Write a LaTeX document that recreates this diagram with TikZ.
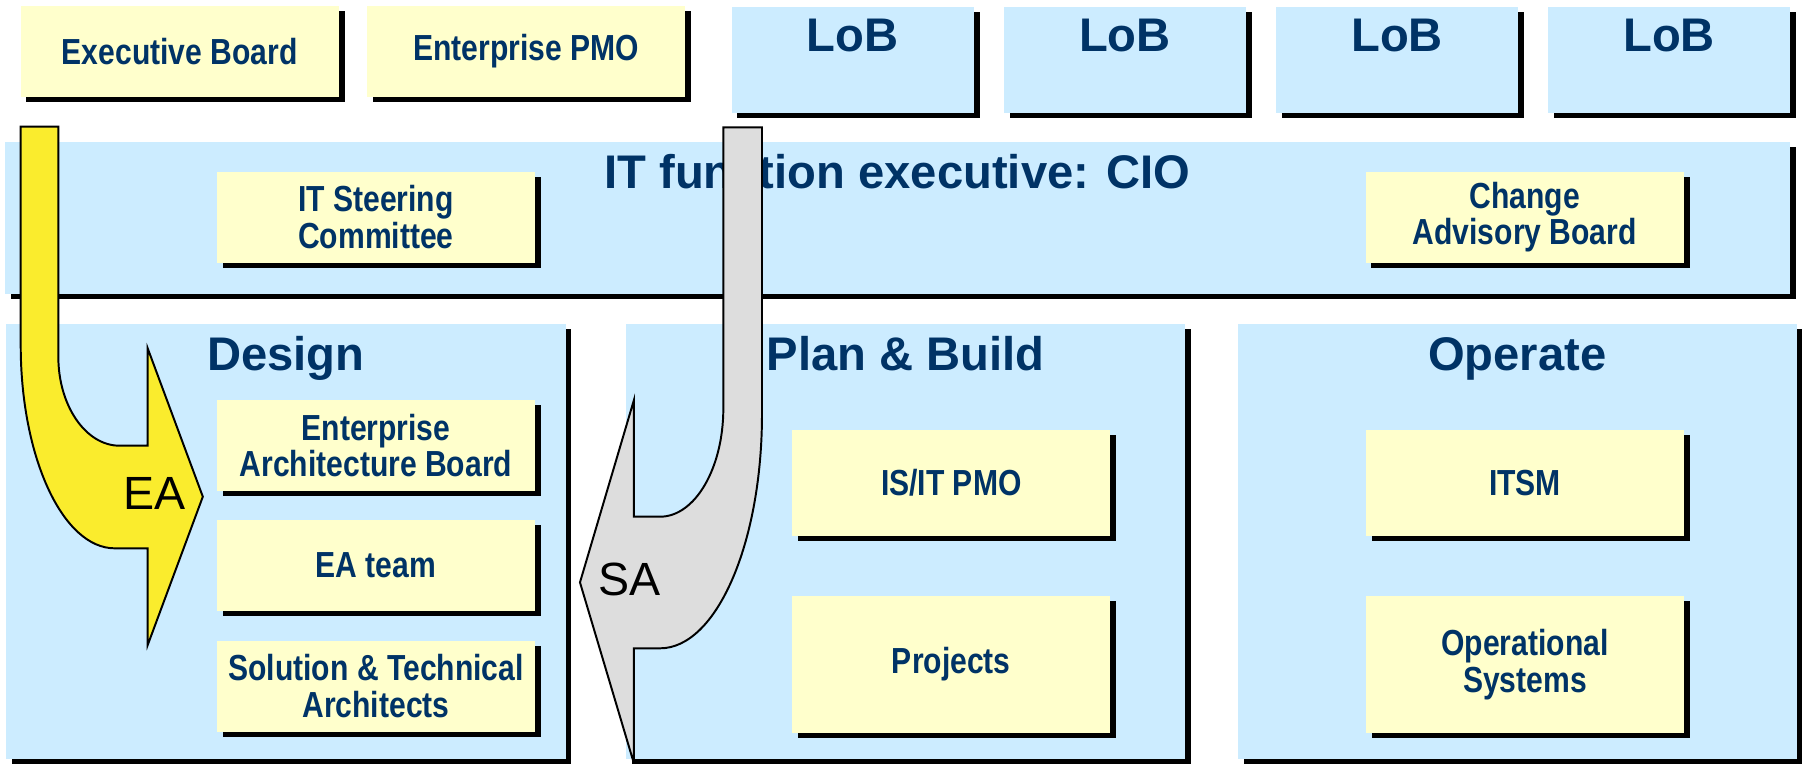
\documentclass[tikz,border=0pt]{standalone}
\usepackage{fontspec}
\setmainfont{Liberation Sans}
\newfontfamily\boxfont[FakeStretch=0.83]{Liberation Sans}
\usetikzlibrary{shadows}
\definecolor{panelblue}{RGB}{204,236,255}
\definecolor{boxyellow}{RGB}{255,255,204}
\definecolor{navy}{RGB}{0,51,102}
\definecolor{eayellow}{RGB}{250,236,45}
\definecolor{sagray}{RGB}{221,221,221}
\begin{document}
\begin{tikzpicture}[x=1pt,y=-1pt,
  shad/.style={drop shadow={shadow xshift=5pt,shadow yshift=-4.5pt,fill=black,opacity=1}},
  panel/.style={fill=panelblue,shad,inner sep=0pt,outer sep=0pt,anchor=north west},
  ybox/.style={fill=boxyellow,shad,inner sep=0pt,outer sep=0pt,minimum width=276.5pt,text=navy,align=center,font=\boxfont\bfseries\fontsize{31.5}{32}\selectfont},
  ttl/.style={anchor=base,text=navy,font=\bfseries\fontsize{41}{44}\selectfont,inner sep=0pt},
  arrowlbl/.style={anchor=base,text=black,font=\fontsize{40.5}{44}\selectfont,inner sep=0pt},
  bigarrow/.style={draw=black,line width=1.7pt,line join=miter}
]
\useasboundingbox (0,0) rectangle (1568,664);
\fill[white] (0,0) rectangle (1568,664);

% top row
\node[ybox,minimum height=78.8pt] (exec) at (156.25,44.6) {Executive Board};
\node[ybox,minimum height=78.8pt] (epmo) at (457.5,44.6) {Enterprise PMO};
\node[panel,minimum width=210.5pt,minimum height=92.2pt] (lob1) at (636,5.8) {};
\node[panel,minimum width=210.5pt,minimum height=92.2pt] (lob2) at (872.5,5.8) {};
\node[panel,minimum width=210.5pt,minimum height=92.2pt] (lob3) at (1109,5.8) {};
\node[panel,minimum width=210.5pt,minimum height=92.2pt] (lob4) at (1345.5,5.8) {};
\node[ttl] (lob1t) at (741.25,45) {LoB};
\node[ttl] (lob2t) at (977.75,45) {LoB};
\node[ttl] (lob3t) at (1214.25,45) {LoB};
\node[ttl] (lob4t) at (1450.75,45) {LoB};

% IT bar
\node[panel,minimum width=1551.5pt,minimum height=132.3pt] (itbar) at (4.5,123.2) {};
\node[ttl] (itbart) at (780,163.5) {IT function executive: CIO};
\node[ybox,minimum height=79.1pt] (itsc) at (326.8,188.75) {IT Steering\\Committee};
\node[ybox,minimum height=79.1pt] (cab) at (1325.25,188.75) {Change\\Advisory Board};

% panels
\node[panel,minimum width=486.6pt,minimum height=378.4pt] (design) at (5,281.6) {};
\node[panel,minimum width=486pt,minimum height=378.4pt] (plan) at (544,281.6) {};
\node[panel,minimum width=485.6pt,minimum height=378.4pt] (operate) at (1076,281.6) {};
\node[ttl] (designt) at (248.3,321.6) {Design};
\node[ttl] (plant) at (787,321.6) {Plan \& Build};
\node[ttl] (operatet) at (1318.8,321.6) {Operate};

% design boxes
\node[ybox,minimum height=79.1pt] (eab) at (326.8,387.25) {Enterprise\\Architecture Board};
\node[ybox,minimum height=79.1pt] (eat) at (326.8,491.5) {EA team};
\node[ybox,minimum height=79.1pt] (sta) at (326.8,596.45) {Solution \& Technical\\Architects};

% plan & build boxes
\node[ybox,minimum height=91.8pt] (pmo) at (826.85,419.7) {IS/IT PMO};
\node[ybox,minimum height=118.8pt] (proj) at (826.85,577.4) {Projects};

% operate boxes
\node[ybox,minimum height=91.8pt] (itsm) at (1325.5,419.7) {ITSM};
\node[ybox,minimum height=118.8pt] (ops) at (1325.5,577.4) {Operational\\Systems};

% EA arrow
\draw[bigarrow,fill=eayellow] (18,110) -- (50.7,110) -- (50.7,310)
  .. controls (50.7,352.7) and (74.6,387.4) .. (104,387.4)
  -- (128.4,387.4) -- (128.4,302.8) -- (176.3,431.7) -- (128.4,560.6)
  -- (128.4,476.6) -- (99.8,476.6)
  .. controls (54.6,476.6) and (18,397.5) .. (18,300) -- cycle;
\node[arrowlbl] (ealbl) at (134.7,442.7) {EA};

% SA arrow
\draw[bigarrow,fill=sagray] (628.7,110.7) -- (662.3,110.7) -- (662.3,360)
  .. controls (662.3,472.3) and (622.6,563.5) .. (573.7,563.5)
  -- (551,563.5) -- (551,663.5) -- (504.1,506.2) -- (551,347.7)
  -- (551,449.1) -- (573.7,449.1)
  .. controls (604.1,449.1) and (628.7,406.9) .. (628.7,355) -- cycle;
\node[arrowlbl] (salbl) at (547,518) {SA};
\end{tikzpicture}
\end{document}
